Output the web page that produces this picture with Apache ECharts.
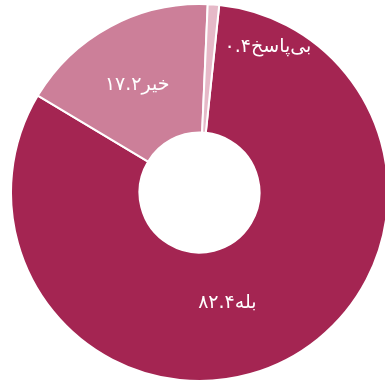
<!DOCTYPE html>
<html lang="fa">
<head>
<meta charset="utf-8">
<script src="https://cdn.jsdelivr.net/npm/echarts@6/dist/echarts.min.js"></script>
<style>
  html, body { margin: 0; padding: 0; background: #fff; }
  #chart { width: 385px; height: 383px; }
</style>
</head>
<body>
<div id="chart"></div>
<script>
  // answers and their share (percent)
  const names = ['بله', 'خیر', 'بی\u200cپاسخ'];
  const values = [82.4, 17.2, 0.4];
  const colors = ['#A42552', '#CC7F99', '#E6B9C8'];
  const labelOffsets = [[-29, -3], [-2, 5], [59, -19]];

  const faDigits = (s) => String(s).replace(/[0-9]/g, (d) => '۰۱۲۳۴۵۶۷۸۹'[d]);

  const chart = echarts.init(document.getElementById('chart'));
  const data = names.map((name, i) => ({
    name,
    value: values[i],
    itemStyle: { color: colors[i] },
    label: { offset: labelOffsets[i] },
  }));

  chart.setOption({
    animation: false,
    series: [
      {
        type: 'pie',
        center: [199.5, 192.5],
        radius: [60, 188.5],
        startAngle: 84,
        minAngle: 3.5,
        clockwise: true,
        avoidLabelOverlap: false,
        itemStyle: {
          borderColor: '#fff',
          borderWidth: 2,
        },
        label: {
          show: true,
          position: 'inside',
          color: '#fff',
          fontSize: 19,
          fontFamily: 'DejaVu Sans',
          formatter(p) {
            return p.name + faDigits(p.value);
          },
        },
        labelLine: { show: false },
        emphasis: { disabled: true },
        data,
      },
    ],
  });
</script>
</body>
</html>
